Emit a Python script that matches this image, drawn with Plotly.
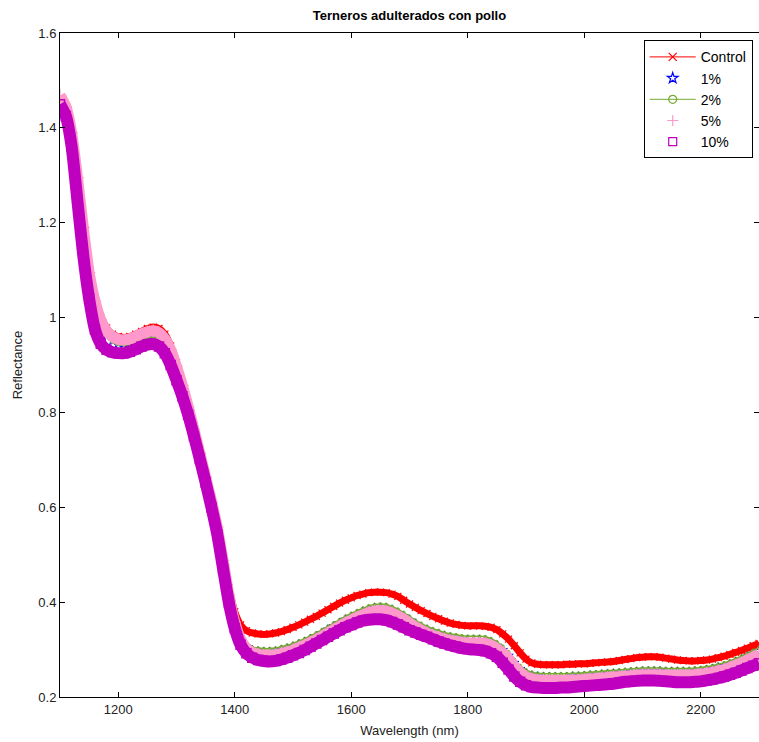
import plotly.graph_objects as go

# Wavelength grid (nm)
wavelength = list(range(1100, 2301, 10))

# Mean reflectance of each group, one value per wavelength
control = [
    1.462, 1.440, 1.390, 1.300, 1.195, 1.100, 1.040, 1.000, 0.978, 0.965,
    0.960, 0.958, 0.960, 0.965, 0.971, 0.977, 0.980, 0.977, 0.965, 0.940,
    0.905, 0.865, 0.820, 0.772, 0.722, 0.672, 0.622, 0.568, 0.500, 0.430,
    0.380, 0.352, 0.340, 0.335, 0.333, 0.332, 0.333, 0.335, 0.338, 0.342,
    0.347, 0.352, 0.358, 0.364, 0.370, 0.377, 0.384, 0.391, 0.398, 0.404,
    0.409, 0.414, 0.417, 0.420, 0.421, 0.421, 0.420, 0.417, 0.412, 0.404,
    0.396, 0.389, 0.382, 0.376, 0.370, 0.365, 0.360, 0.356, 0.353, 0.351,
    0.350, 0.350, 0.350, 0.349, 0.347, 0.342, 0.333, 0.322, 0.308, 0.293,
    0.280, 0.272, 0.269, 0.268, 0.268, 0.268, 0.268, 0.269, 0.269, 0.270,
    0.270, 0.271, 0.272, 0.273, 0.274, 0.275, 0.277, 0.279, 0.281, 0.283,
    0.284, 0.285, 0.285, 0.284, 0.282, 0.280, 0.278, 0.277, 0.276, 0.276,
    0.277, 0.278, 0.280, 0.283, 0.286, 0.290, 0.294, 0.298, 0.303, 0.308,
    0.313,
]

pct1 = [
    1.458, 1.436, 1.384, 1.286, 1.180, 1.085, 1.025, 0.986, 0.963, 0.951,
    0.946, 0.945, 0.947, 0.951, 0.956, 0.960, 0.962, 0.958, 0.946, 0.923,
    0.889, 0.851, 0.807, 0.760, 0.710, 0.660, 0.609, 0.554, 0.483, 0.410,
    0.356, 0.322, 0.306, 0.299, 0.296, 0.295, 0.295, 0.296, 0.299, 0.302,
    0.306, 0.311, 0.316, 0.322, 0.328, 0.335, 0.342, 0.349, 0.356, 0.363,
    0.369, 0.375, 0.380, 0.384, 0.387, 0.388, 0.387, 0.383, 0.377, 0.370,
    0.362, 0.354, 0.347, 0.341, 0.336, 0.332, 0.328, 0.325, 0.323, 0.321,
    0.320, 0.320, 0.320, 0.319, 0.315, 0.308, 0.299, 0.287, 0.272, 0.259,
    0.250, 0.245, 0.243, 0.242, 0.242, 0.242, 0.242, 0.242, 0.243, 0.243,
    0.244, 0.245, 0.246, 0.247, 0.248, 0.249, 0.250, 0.251, 0.252, 0.253,
    0.254, 0.254, 0.254, 0.254, 0.253, 0.253, 0.253, 0.253, 0.253, 0.254,
    0.255, 0.257, 0.259, 0.262, 0.265, 0.269, 0.274, 0.279, 0.285, 0.291,
    0.297,
]

pct2 = [
    1.455, 1.432, 1.380, 1.280, 1.175, 1.080, 1.020, 0.982, 0.960, 0.948,
    0.943, 0.942, 0.944, 0.948, 0.953, 0.957, 0.958, 0.955, 0.943, 0.920,
    0.886, 0.848, 0.804, 0.757, 0.708, 0.658, 0.607, 0.551, 0.480, 0.408,
    0.358, 0.325, 0.311, 0.305, 0.303, 0.302, 0.302, 0.303, 0.306, 0.309,
    0.313, 0.318, 0.323, 0.329, 0.335, 0.342, 0.349, 0.356, 0.363, 0.370,
    0.376, 0.382, 0.387, 0.392, 0.395, 0.396, 0.395, 0.391, 0.385, 0.378,
    0.370, 0.362, 0.355, 0.349, 0.344, 0.340, 0.336, 0.333, 0.331, 0.329,
    0.328, 0.328, 0.328, 0.327, 0.323, 0.316, 0.307, 0.295, 0.279, 0.266,
    0.257, 0.252, 0.250, 0.249, 0.249, 0.249, 0.249, 0.249, 0.250, 0.250,
    0.251, 0.252, 0.253, 0.254, 0.255, 0.256, 0.257, 0.258, 0.259, 0.260,
    0.261, 0.261, 0.261, 0.261, 0.260, 0.260, 0.260, 0.260, 0.260, 0.261,
    0.262, 0.264, 0.266, 0.269, 0.272, 0.276, 0.281, 0.286, 0.292, 0.298,
    0.304,
]

pct5 = [
    1.468, 1.445, 1.390, 1.295, 1.190, 1.095, 1.035, 0.995, 0.972, 0.960,
    0.954, 0.953, 0.955, 0.960, 0.966, 0.970, 0.972, 0.968, 0.955, 0.932,
    0.897, 0.857, 0.812, 0.764, 0.714, 0.664, 0.613, 0.558, 0.488, 0.415,
    0.358, 0.322, 0.303, 0.294, 0.290, 0.288, 0.288, 0.289, 0.292, 0.295,
    0.299, 0.304, 0.309, 0.315, 0.321, 0.328, 0.335, 0.342, 0.349, 0.356,
    0.362, 0.368, 0.373, 0.378, 0.381, 0.382, 0.381, 0.377, 0.371, 0.364,
    0.356, 0.348, 0.341, 0.335, 0.330, 0.326, 0.322, 0.319, 0.317, 0.315,
    0.314, 0.314, 0.314, 0.313, 0.309, 0.302, 0.293, 0.281, 0.265, 0.252,
    0.243, 0.238, 0.236, 0.235, 0.235, 0.235, 0.235, 0.235, 0.236, 0.236,
    0.237, 0.238, 0.239, 0.240, 0.241, 0.242, 0.243, 0.244, 0.245, 0.246,
    0.247, 0.247, 0.247, 0.247, 0.246, 0.246, 0.246, 0.246, 0.246, 0.247,
    0.248, 0.250, 0.252, 0.255, 0.258, 0.262, 0.267, 0.272, 0.278, 0.284,
    0.290,
]

pct10 = [
    1.450, 1.425, 1.360, 1.245, 1.130, 1.040, 0.975, 0.945, 0.932, 0.927,
    0.925, 0.925, 0.928, 0.933, 0.939, 0.943, 0.944, 0.939, 0.925, 0.900,
    0.868, 0.834, 0.795, 0.750, 0.702, 0.652, 0.600, 0.543, 0.470, 0.398,
    0.345, 0.310, 0.292, 0.283, 0.278, 0.276, 0.275, 0.276, 0.279, 0.283,
    0.288, 0.293, 0.299, 0.306, 0.313, 0.320, 0.327, 0.334, 0.341, 0.347,
    0.352, 0.357, 0.361, 0.363, 0.364, 0.364, 0.362, 0.358, 0.353, 0.347,
    0.341, 0.336, 0.331, 0.327, 0.322, 0.317, 0.313, 0.309, 0.306, 0.303,
    0.301, 0.300, 0.299, 0.297, 0.292, 0.285, 0.272, 0.258, 0.243, 0.232,
    0.225, 0.221, 0.220, 0.219, 0.219, 0.219, 0.220, 0.220, 0.221, 0.222,
    0.223, 0.224, 0.225, 0.226, 0.227, 0.228, 0.230, 0.232, 0.233, 0.234,
    0.235, 0.235, 0.235, 0.234, 0.233, 0.232, 0.231, 0.231, 0.231, 0.232,
    0.233, 0.235, 0.237, 0.240, 0.243, 0.247, 0.251, 0.256, 0.261, 0.266,
    0.271,
]

for series in (control, pct1, pct2, pct5, pct10):
    assert len(series) == len(wavelength)

RED = "#FF0000"
BLUE = "#0000FF"
GREEN = "#77AC30"
PINK = "#FF99CC"
MAGENTA = "#BF00BF"

fig = go.Figure()

# Spectral bands (drawn in order, later groups on top)
fig.add_trace(go.Scatter(
    x=wavelength, y=control, mode="lines+markers", showlegend=False,
    line=dict(color=RED, width=7, shape="spline", smoothing=0.6),
    marker=dict(symbol="x-thin", size=7, line=dict(color=RED, width=1.2)),
))
fig.add_trace(go.Scatter(
    x=wavelength, y=pct1, mode="markers", showlegend=False,
    marker=dict(symbol="star-open", size=7, color=BLUE, line=dict(color=BLUE, width=1)),
))
fig.add_trace(go.Scatter(
    x=wavelength, y=pct2, mode="lines+markers", showlegend=False,
    line=dict(color=GREEN, width=1.6, shape="spline", smoothing=0.6),
    marker=dict(symbol="circle-open", size=3, color=GREEN, line=dict(color=GREEN, width=1)),
))
fig.add_trace(go.Scatter(
    x=wavelength, y=pct5, mode="lines+markers", showlegend=False,
    line=dict(color=PINK, width=11, shape="spline", smoothing=0.6),
    marker=dict(symbol="cross-thin", size=9, line=dict(color=PINK, width=1.2)),
))
fig.add_trace(go.Scatter(
    x=wavelength, y=pct10, mode="lines+markers", showlegend=False,
    line=dict(color=MAGENTA, width=12, shape="spline", smoothing=0.6),
    marker=dict(symbol="square-open", size=9, color=MAGENTA, line=dict(color=MAGENTA, width=1.5)),
))

# Legend entries
legend_items = [
    ("Control", "lines+markers", RED, "x-thin"),
    ("1%", "markers", BLUE, "star-open"),
    ("2%", "lines+markers", GREEN, "circle-open"),
    ("5%", "markers", PINK, "cross-thin"),
    ("10%", "markers", MAGENTA, "square-open"),
]
for name, mode, color, symbol in legend_items:
    fig.add_trace(go.Scatter(
        x=[None], y=[None], name=name, mode=mode,
        line=dict(color=color, width=1),
        marker=dict(symbol=symbol, size=8, color=color, line=dict(color=color, width=1.2)),
    ))

axis_font = dict(family="Liberation Sans, Arial, sans-serif", size=13, color="#222222")

fig.update_layout(
    width=759, height=742,
    margin=dict(l=60, r=0, t=33, b=45),
    paper_bgcolor="white", plot_bgcolor="white",
    title=dict(
        text="<b>Terneros adulterados con pollo</b>",
        x=0.5, xref="paper", y=1 - 15 / 742, yref="container",
        xanchor="center", yanchor="middle",
        font=dict(family="Liberation Sans, Arial, sans-serif", size=13, color="#000000"),
    ),
    showlegend=True,
    legend=dict(
        x=0.991, y=0.989, xanchor="right", yanchor="top",
        bgcolor="white", bordercolor="#000000", borderwidth=1,
        font=dict(family="Liberation Sans, Arial, sans-serif", size=14, color="#000000"),
        itemwidth=46, tracegroupgap=0,
    ),
    font=axis_font,
)

fig.update_xaxes(
    range=[1100, 2300], tickmode="array", tickvals=[1200, 1400, 1600, 1800, 2000, 2200],
    showgrid=False, zeroline=False, showline=True, linecolor="#000000", linewidth=1,
    mirror="ticks", ticks="inside", ticklen=5, tickcolor="#000000",
    tickfont=axis_font,
    title=dict(text="Wavelength (nm)", font=axis_font, standoff=10),
)
fig.update_yaxes(
    range=[0.2, 1.6], tickmode="array",
    tickvals=[0.2, 0.4, 0.6, 0.8, 1.0, 1.2, 1.4, 1.6],
    ticktext=["0.2", "0.4", "0.6", "0.8", "1", "1.2", "1.4", "1.6"],
    showgrid=False, zeroline=False, showline=True, linecolor="#000000", linewidth=1,
    mirror="ticks", ticks="inside", ticklen=5, tickcolor="#000000",
    tickfont=axis_font,
    title=dict(text="Reflectance", font=axis_font, standoff=12),
)

fig.write_html("out.html")
